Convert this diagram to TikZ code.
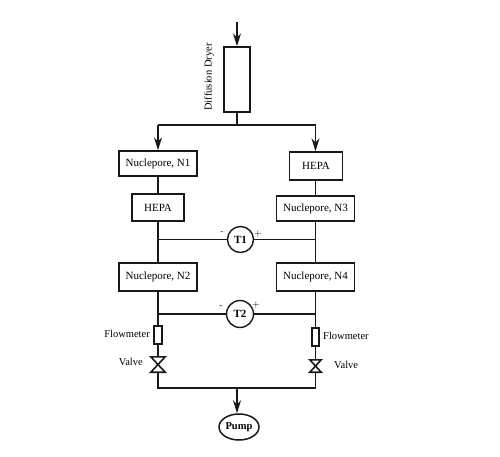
\documentclass[tikz,border=0pt]{standalone}
\usepackage{fontspec}
\setmainfont{Liberation Serif}
\usetikzlibrary{arrows.meta, shapes.geometric}

\begin{document}
\begin{tikzpicture}[
    x=1pt, y=-1pt,
    box/.style={
        rectangle, draw=black!90, line width=1.4pt, fill=white,
        font=\fontsize{11}{13}\selectfont, inner sep=0pt
    },
    filter/.style={box, minimum width=78pt, minimum height=#1},
    meter/.style={
        circle, draw=black!90, line width=1.4pt, fill=white, minimum size=#1, inner sep=0pt,
        font=\fontsize{11}{13}\selectfont\bfseries
    },
    valve/.style={rectangle, minimum width=#1, inner sep=0pt},
    pipe/.style={line width=1.3pt, draw=black!90},
    flow/.style={-{Stealth[length=13pt, width=8pt]}, line width=1.4pt, draw=black!90},
    lbl/.style={font=\fontsize{10.5}{12}\selectfont, inner sep=0pt},
    sign/.style={font=\fontsize{10}{12}\selectfont\sffamily, inner sep=0pt}
]
\useasboundingbox (0,0) rectangle (500,457);

% Dryer and inlet
\coordinate (inlet) at (237,22);
\node[box, minimum width=26pt, minimum height=65pt] (dryer) at (237,79.5) {};
\node[lbl, rotate=90] (dryerlabel) at (209,77) {Diffusion Dryer};
\coordinate (split) at (237,125);
\coordinate (splitL) at (158,125);
\coordinate (splitR) at (315.5,125);

% Left branch
\node[filter=25pt] (n1) at (158,163.5) {Nuclepore, N1};
\node[box, minimum width=52pt, minimum height=27pt] (hepaL) at (158,207.5) {HEPA};
\node[filter=28pt] (n2) at (158,277) {Nuclepore, N2};
\node[box, minimum width=8pt, minimum height=18pt] (fmL) at (158,335) {};
\node[valve=14pt, minimum height=15pt] (vL) at (158,364.5) {};

% Right branch
\node[box, minimum width=53pt, minimum height=28pt] (hepaR) at (316,166) {HEPA};
\node[filter=25pt] (n3) at (315.5,208.5) {Nuclepore, N3};
\node[filter=28pt] (n4) at (315.5,277) {Nuclepore, N4};
\node[box, minimum width=7pt, minimum height=18pt] (fmR) at (315.5,337) {};
\node[valve=11pt, minimum height=12pt] (vR) at (315.5,366) {};

% Meters
\node[meter=26pt] (t1) at (240.5,239.5) {T1};
\node[meter=27pt] (t2) at (240,314) {T2};
\coordinate (t1L) at (158,239.5);
\coordinate (t1R) at (315.5,239.5);
\coordinate (t2L) at (158,314);
\coordinate (t2R) at (315.5,314);

% Pump
\coordinate (joinL) at (158,388);
\coordinate (joinR) at (315.5,388);
\coordinate (join) at (237,388);
\node[ellipse, draw=black!90, line width=1.5pt, fill=white, minimum width=40pt, minimum height=26pt,
    inner sep=0pt, font=\fontsize{10.5}{12}\selectfont\bfseries] (pump) at (239,427) {Pump};

% Flow arrows
\draw[flow] (inlet) -- (dryer.north);
\draw[pipe] (dryer.south) -- (split);
\draw[pipe] (splitL) -- (splitR);
\draw[flow] (splitL) -- (n1.north);
\draw[flow] (splitR) -- (hepaR.north -| splitR);
\draw[flow] (join) -- (join |- pump.north);

% Pipes
\draw[pipe] (n1) -- (hepaL);
\draw[pipe] (hepaL) -- (n2);
\draw[pipe] (n2) -- (fmL);
\draw[pipe] (fmL) -- (vL);
\draw[pipe] (vL) -- (joinL);
\draw[pipe] (hepaR.south -| n3) -- (n3);
\draw[pipe] (n3) -- (n4);
\draw[pipe] (n4) -- (fmR);
\draw[pipe] (fmR) -- (vR);
\draw[pipe] (vR) -- (joinR);
\draw[pipe, line cap=rect] (joinL) -- (joinR);

% Meter leads
\draw[pipe] (t1L) -- (t1);
\draw[pipe] (t1) -- (t1R);
\draw[pipe] (t2L) -- (t2);
\draw[pipe] (t2) -- (t2R);

% Valves
\draw[pipe, fill=white, line width=1.6pt] (vL.north west) -- (vL.north east) -- (vL.south west) -- (vL.south east) -- cycle;
\draw[pipe, fill=white, line width=1.6pt] (vR.north west) -- (vR.north east) -- (vR.south west) -- (vR.south east) -- cycle;

% Labels
\node[sign] (t1minus) at (222,233) {-};
\node[sign] (t1plus) at (258,234) {+};
\node[sign] (t2minus) at (221,307) {-};
\node[sign] (t2plus) at (256,305) {+};
\node[lbl, anchor=east] (fmLlabel) at (150,334) {Flowmeter};
\node[lbl, anchor=west] (fmRlabel) at (323,336) {Flowmeter};
\node[lbl, anchor=east] (vLlabel) at (143,362) {Valve};
\node[lbl, anchor=west] (vRlabel) at (334,365) {Valve};

\end{tikzpicture}
\end{document}
